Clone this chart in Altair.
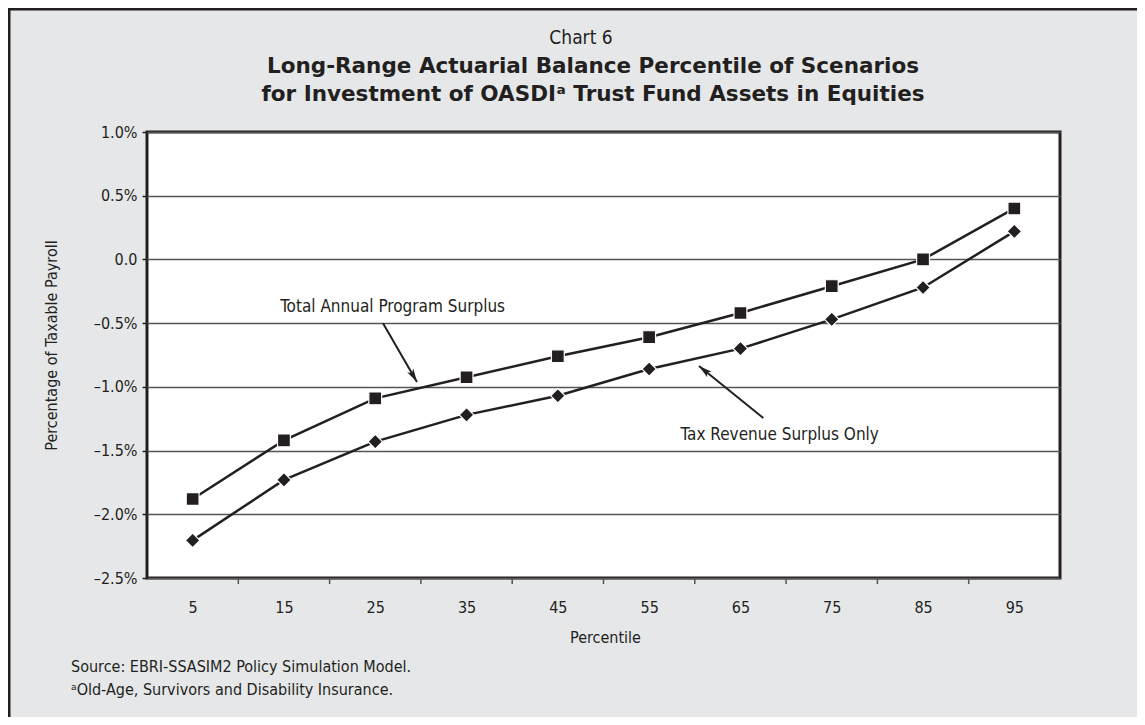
import altair as alt
import pandas as pd

# ---------------- data ----------------
percentiles = [5, 15, 25, 35, 45, 55, 65, 75, 85, 95]
total_program = [-1.88, -1.42, -1.09, -0.925, -0.76, -0.61, -0.42, -0.21, 0.0, 0.40]
tax_revenue = [-2.205, -1.73, -1.43, -1.22, -1.07, -0.86, -0.70, -0.47, -0.22, 0.22]
series_names = ["Total Annual Program Surplus", "Tax Revenue Surplus Only"]
y_ticks = [-2.5, -2.0, -1.5, -1.0, -0.5, 0.0, 0.5, 1.0]

title_lines = [
    "Chart 6",
    "Long-Range Actuarial Balance Percentile of Scenarios",
    "for Investment of OASDIᵃ Trust Fund Assets in Equities",
]
notes = [
    "Source: EBRI-SSASIM2 Policy Simulation Model.",
    "ᵃOld-Age, Survivors and Disability Insurance.",
]

# annotation labels and arrows (data coordinates)
ann_text_x = [26.9, 69.3]
ann_text_y = [-0.374, -1.378]
arrow_start_x = [25.85, 67.5]
arrow_start_y = [-0.50, -1.245]
arrow_end_x = [29.57, 60.46]
arrow_end_y = [-0.962, -0.837]
arrow_angle = [150, 309]

# ---------------- tables ----------------
df = pd.DataFrame(
    {
        "pct": percentiles * 2,
        "val": total_program + tax_revenue,
        "series": [series_names[0]] * len(percentiles) + [series_names[1]] * len(percentiles),
    }
)
tick_df = pd.DataFrame({"pct": [(a + b) / 2 for a, b in zip(percentiles[:-1], percentiles[1:])]})
ann_df = pd.DataFrame({"pct": ann_text_x, "val": ann_text_y, "label": series_names})
arrow_df = pd.DataFrame(
    {
        "pct": arrow_start_x,
        "val": arrow_start_y,
        "pct2": arrow_end_x,
        "val2": arrow_end_y,
        "angle": arrow_angle,
    }
)

INK = "#231f20"
FONT = "'Liberation Sans Narrow', 'DejaVu Sans Condensed', Roboto, sans-serif"
BOLD = "'DejaVu Sans', Verdana, sans-serif"
W, H = 913, 446

x_scale = alt.Scale(domain=[0, 100], nice=False, zero=False)
y_scale = alt.Scale(domain=[-2.5, 1.0], nice=False, zero=False)

x_axis = alt.Axis(
    values=percentiles,
    ticks=False,
    tickSize=0,
    grid=False,
    domain=False,
    labelFont=FONT,
    labelFontSize=16,
    labelColor=INK,
    labelBaseline="middle",
    labelPadding=29,
    title="Percentile",
    titleFont=FONT,
    titleFontSize=16,
    titleFontWeight="normal",
    titleColor=INK,
    titleX=458,
    titleY=59,
    titleBaseline="middle",
    titleAnchor="start",
    titleAlign="center",
)
y_axis = alt.Axis(
    values=y_ticks,
    labelExpr="datum.value == 0 ? '0.0' : (datum.value < 0 ? '–' : '') + format(abs(datum.value), '.1f') + '%'",
    grid=True,
    gridColor="#555555",
    gridWidth=1.5,
    domain=False,
    ticks=True,
    tickSize=5,
    tickColor=INK,
    tickWidth=1.5,
    labelFont=FONT,
    labelFontSize=16,
    labelColor=INK,
    labelPadding=5,
    title="Percentage of Taxable Payroll",
    titleFont=FONT,
    titleFontSize=16,
    titleFontWeight="normal",
    titleColor=INK,
    titleX=-96,
    titleY=213,
    titleAngle=270,
    titleBaseline="middle",
    titleAlign="center",
)

lines = (
    alt.Chart(df)
    .mark_line(color=INK, strokeWidth=2.5)
    .encode(
        x=alt.X("pct:Q", scale=x_scale, axis=x_axis),
        y=alt.Y("val:Q", scale=y_scale, axis=y_axis),
        detail="series:N",
    )
)

markers = (
    alt.Chart(df)
    .mark_point(filled=True, fill=INK, stroke="white", strokeWidth=1.2, opacity=1)
    .encode(
        x="pct:Q",
        y="val:Q",
        shape=alt.Shape(
            "series:N", scale=alt.Scale(domain=series_names, range=["square", "diamond"]), legend=None
        ),
        size=alt.Size("series:N", scale=alt.Scale(domain=series_names, range=[165, 210]), legend=None),
    )
)

xticks = (
    alt.Chart(tick_df)
    .mark_rule(color="#555555", strokeWidth=1.5)
    .encode(x="pct:Q", y=alt.value(H), y2=alt.value(H + 6))
)

ann_text = (
    alt.Chart(ann_df)
    .mark_text(font=FONT, fontSize=17, color=INK, baseline="middle", align="center")
    .encode(x="pct:Q", y="val:Q", text="label:N")
)

arrow_lines = (
    alt.Chart(arrow_df)
    .mark_rule(color=INK, strokeWidth=2)
    .encode(x="pct:Q", y="val:Q", x2="pct2:Q", y2="val2:Q")
)
arrow_heads = (
    alt.Chart(arrow_df)
    .mark_point(
        shape="M0,0 L0.5,1.9 L0,1.45 L-0.5,1.9 Z",
        filled=True,
        fill=INK,
        strokeWidth=0,
        size=200,
        opacity=1,
    )
    .encode(x=alt.X("pct2:Q"), y=alt.Y("val2:Q"), angle=alt.Angle("angle:Q", scale=None))
)

one = alt.Data(values=[{}])
title_marks = [
    alt.Chart(one).mark_text(font=FONT, fontSize=19, color=INK, align="center", baseline="middle")
    .encode(x=alt.value(434), y=alt.value(-94), text=alt.value(title_lines[0])),
    alt.Chart(one).mark_text(font=BOLD, fontSize=21.5, fontWeight="bold", color=INK, align="center", baseline="middle")
    .encode(x=alt.value(446), y=alt.value(-65), text=alt.value(title_lines[1])),
    alt.Chart(one).mark_text(font=BOLD, fontSize=21.5, fontWeight="bold", color=INK, align="center", baseline="middle")
    .encode(x=alt.value(446), y=alt.value(-37), text=alt.value(title_lines[2])),
]
note_marks = [
    alt.Chart(one).mark_text(font=FONT, fontSize=16, color=INK, align="left", baseline="middle")
    .encode(x=alt.value(-76), y=alt.value(535), text=alt.value(notes[0])),
    alt.Chart(one).mark_text(font=FONT, fontSize=16, color=INK, align="left", baseline="middle")
    .encode(x=alt.value(-76), y=alt.value(558), text=alt.value(notes[1])),
]

border = [
    alt.Chart(one).mark_rule(color=INK, strokeWidth=3)
    .encode(x=alt.value(-138), x2=alt.value(-138), y=alt.value(-124), y2=alt.value(H + 139)),
    alt.Chart(one).mark_rule(color=INK, strokeWidth=3)
    .encode(x=alt.value(-139), x2=alt.value(W + 77), y=alt.value(-123), y2=alt.value(-123)),
]

chart = (
    alt.layer(lines, markers, xticks, arrow_lines, arrow_heads, ann_text, *title_marks, *note_marks, *border)
    .properties(
        width=W,
        height=H,
        autosize=alt.AutoSizeParams(type="none"),
        padding={"left": 139, "top": 124, "right": 77, "bottom": 139},
        background="#e6e7e9",
    )
    .configure_view(fill="white", stroke=INK, strokeWidth=3)
)

chart.save("out.html", embed_options={"renderer": "svg", "actions": False})
